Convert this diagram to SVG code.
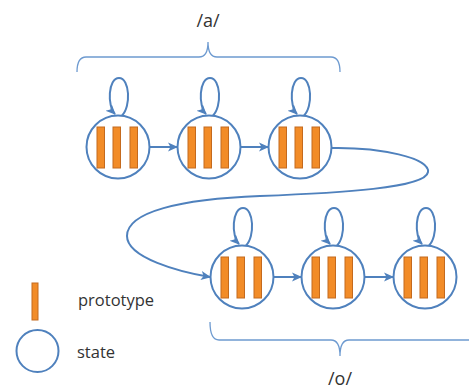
<svg xmlns="http://www.w3.org/2000/svg" width="469" height="390" viewBox="0 0 469 390">
  <style>
    .state { fill: #ffffff; stroke: #4f81bd; stroke-width: 2; }
    .proto { fill: #f28c28; stroke: #c46a1e; stroke-width: 1; }
    .edge { fill: none; stroke: #4f81bd; stroke-width: 2; }
    .brace { fill: none; stroke: #6d9ad0; stroke-width: 1.3; }
    .lbl { font-family: "Open Sans", "Noto Sans", sans-serif; fill: #333333; }
  </style>
  <defs>
    <marker id="arrow" markerUnits="userSpaceOnUse" markerWidth="10" markerHeight="10" viewBox="0 0 10 10" refX="9" refY="5" orient="auto">
      <path d="M0,0.5 L10,5 L0,9.5 L2.5,5 Z" fill="#4f81bd"/>
    </marker>
    <!-- a state: circle with three prototype bars -->
    <g id="stateShape">
      <circle class="state" cx="0" cy="0" r="31.5"/>
      <rect class="proto" x="-21" y="-20" width="7.5" height="41"/>
      <rect class="proto" x="-5" y="-20" width="7.5" height="41"/>
      <rect class="proto" x="12" y="-20" width="7.5" height="41"/>
    </g>
    <!-- self loop drawn above a state -->
    <path id="selfLoop" class="edge" d="M4,-31.5 C13,-40 12,-69 1,-69 C-10,-69 -11,-41 -3,-33" marker-end="url(#arrow)"/>
  </defs>

  <!-- braces and phoneme labels -->
  <path class="brace" d="M77,72 Q77,57 86,57 L199,57 Q208,57 208,42 Q208,57 217,57 L331,57 Q340,57 340,72"/>
  <text class="lbl" x="208" y="27" font-size="18" text-anchor="middle">/a/</text>
  <path class="brace" d="M210,322 Q210,340 219,340 L331,340 Q340,340 340,356 Q340,340 349,340 L472,340"/>
  <text class="lbl" x="340" y="385" font-size="18" text-anchor="middle">/o/</text>

  <!-- connectors -->
  <g id="connectors">
    <use href="#selfLoop" x="118" y="147"/>
    <use href="#selfLoop" x="209" y="147"/>
    <use href="#selfLoop" x="300" y="147"/>
    <use href="#selfLoop" x="242" y="277"/>
    <use href="#selfLoop" x="333" y="277"/>
    <use href="#selfLoop" x="425" y="277"/>
    <path class="edge" d="M149.5,147 L177,147" marker-end="url(#arrow)"/>
    <path class="edge" d="M240.5,147 L268,147" marker-end="url(#arrow)"/>
    <path class="edge" d="M273.5,277 L301,277" marker-end="url(#arrow)"/>
    <path class="edge" d="M364.5,277 L393,277" marker-end="url(#arrow)"/>
    <path class="edge" d="M331,148 C380,147 430,158 428,172 C426,188 340,193 260,196 C180,199 127,212 127,236 C127,258 180,272 210,277" marker-end="url(#arrow)"/>
  </g>

  <!-- states -->
  <g id="a1"><use href="#stateShape" x="118" y="147"/></g>
  <g id="a2"><use href="#stateShape" x="209" y="147"/></g>
  <g id="a3"><use href="#stateShape" x="300" y="147"/></g>
  <g id="o1"><use href="#stateShape" x="242" y="277"/></g>
  <g id="o2"><use href="#stateShape" x="333" y="277"/></g>
  <g id="o3"><use href="#stateShape" x="425" y="277"/></g>

  <!-- legend -->
  <g id="legend">
    <rect class="proto" x="32" y="283" width="6" height="37"/>
    <text class="lbl" x="78" y="306" font-size="16.5">prototype</text>
    <circle class="state" cx="37.5" cy="351" r="21"/>
    <text class="lbl" x="77" y="358" font-size="16.5">state</text>
  </g>
</svg>
